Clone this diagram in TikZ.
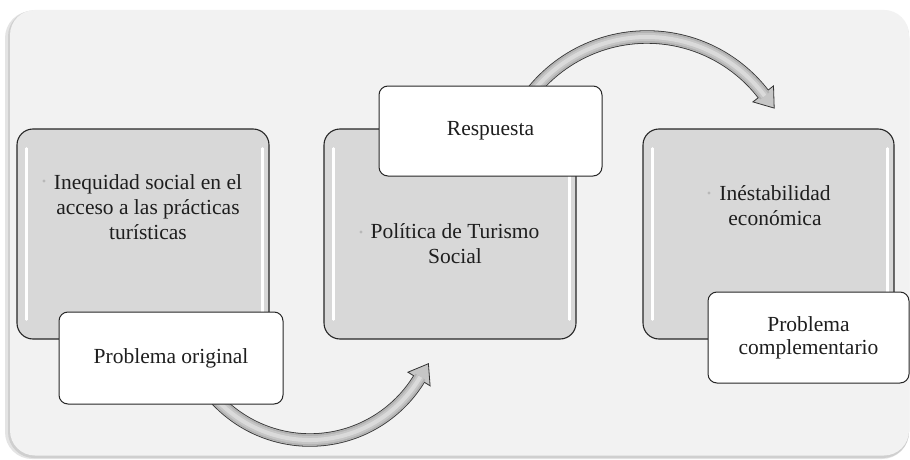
\documentclass[tikz,border=0pt]{standalone}
\usepackage{fontspec}
\setmainfont{Liberation Serif}
\definecolor{panelc}{HTML}{F2F2F2}
\definecolor{shadowa}{HTML}{E4E4E4}
\definecolor{shadowb}{HTML}{CFCFCF}
\definecolor{boxgray}{HTML}{D8D8D8}
\definecolor{txt}{HTML}{1E1E1E}
\definecolor{bulletc}{HTML}{B8B8B8}
\definecolor{arrA}{HTML}{B2B2B2}
\definecolor{arrB}{HTML}{C6C6C6}
\definecolor{arrC}{HTML}{DADADA}
\begin{document}
\begin{tikzpicture}[x=1pt,y=1pt,
  graybox/.style={draw=black!85, line width=1.1pt, fill=boxgray, rounded corners=16pt},
  whitebox/.style={draw=black!85, line width=1pt, fill=white, rounded corners=9pt,
     font=\fontsize{21.5pt}{23pt}\selectfont, text=txt, align=center},
  boxtext/.style={font=\fontsize{21.5pt}{25pt}\selectfont, text=txt, align=center},
  hl/.style={draw=white, line width=2.6pt, line cap=round},
  arrout/.style={draw=black!80, line width=13.4pt},
  arrin1/.style={draw=arrA, line width=11.8pt},
  arrin2/.style={draw=arrB, line width=8pt},
  arrin3/.style={draw=arrC, line width=4pt},
  headst/.style={fill=arrB, draw=black!80, line width=0.8pt, line join=miter},
  bullet/.style={fill=bulletc}
]
\useasboundingbox (0,0) rectangle (910,459);
\fill[white] (0,0) rectangle (910,459);
% panel with shadow
\fill[shadowa, rounded corners=27pt] (5,0) rectangle (909,448);
\fill[shadowb, rounded corners=26pt] (8,1) rectangle (909,448.5);
\fill[panelc, rounded corners=25pt] (10,3.5) rectangle (909,449);

% gray boxes
\node[graybox, minimum width=252pt, minimum height=210pt] (b1) at (143,225) {};
\node[graybox, minimum width=252pt, minimum height=210pt] (b2) at (450,225) {};
\node[graybox, minimum width=251pt, minimum height=210pt] (b3) at (768.5,225) {};
\foreach \b in {b1,b2,b3}{
  \draw[hl] ([xshift=10pt,yshift=-20pt]\b.north west) -- ([xshift=10pt,yshift=20pt]\b.south west);
  \draw[hl] ([xshift=-7pt,yshift=-20pt]\b.north east) -- ([xshift=-7pt,yshift=20pt]\b.south east);
}

% box texts
\node[boxtext] (t1) at (148,252) {Inequidad social en el\\acceso a las prácticas\\turísticas};
\fill[bullet] (44,278) circle (1.7pt);
\node[boxtext] (t2) at (455,215) {Política de Turismo\\Social};
\fill[bullet] (361,227) circle (1.7pt);
\node[boxtext] (t3) at (775,253.5) {Inéstabilidad\\económica};
\fill[bullet] (709,266) circle (1.7pt);

% bottom curved arrow
\coordinate (a1s) at (211.9,64.7);
\coordinate (h1t) at (428.4,95.3);
\coordinate (h1a) at (430.1,73.2);
\coordinate (h1b) at (407.9,86.8);
\draw[arrout] (a1s) arc[start angle=220, end angle=328.4, radius=128pt];
\filldraw[headst] (h1a) -- (h1t) -- (h1b) -- cycle;
\draw[arrin1] (a1s) arc[start angle=220, end angle=329.6, radius=128pt];
\draw[arrin2] (a1s) arc[start angle=220, end angle=329.6, radius=128pt];
\draw[arrin3] (a1s) arc[start angle=220, end angle=329.6, radius=128pt];

% top curved arrow
\coordinate (a2s) at (531.2,365.5);
\coordinate (h2t) at (774.2,350.9);
\coordinate (h2a) at (773.5,373.1);
\coordinate (h2b) at (752.9,357.1);
\draw[arrout] (a2s) arc[start angle=142, end angle=37.8, radius=147pt];
\filldraw[headst] (h2a) -- (h2t) -- (h2b) -- cycle;
\draw[arrin1] (a2s) arc[start angle=142, end angle=36.8, radius=147pt];
\draw[arrin2] (a2s) arc[start angle=142, end angle=36.8, radius=147pt];
\draw[arrin3] (a2s) arc[start angle=142, end angle=36.8, radius=147pt];

% white label boxes
\node[whitebox, minimum width=224pt, minimum height=92pt] (po) at (171,101) {Problema original};
\node[whitebox, minimum width=223pt, minimum height=90pt] (re) at (490.5,328) {Respuesta};
\node[whitebox, minimum width=201pt, minimum height=91pt] (pc) at (808.5,121.5) {Problema\\complementario};
\end{tikzpicture}
\end{document}
